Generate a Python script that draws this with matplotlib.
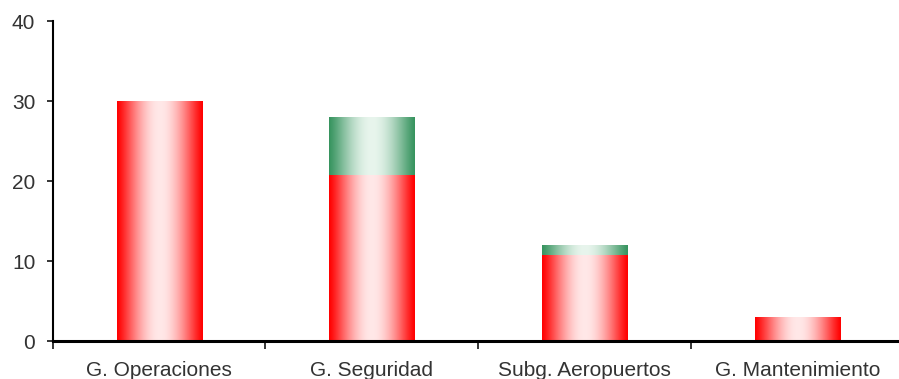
import numpy as np
import matplotlib
matplotlib.use('Agg')
import matplotlib.pyplot as plt

plt.rcParams['font.family'] = ['Liberation Sans', 'DejaVu Sans']

# datos
categorias = ['G. Operaciones', 'G. Seguridad', 'Subg. Aeropuertos', 'G. Mantenimiento']
rojo = [30, 20.8, 10.8, 3]
verde = [0, 7.2, 1.2, 0]


def gradiente(borde, centro, n=200):
    # degradado horizontal: color del borde a los lados, claro en el centro
    t = np.linspace(-1, 1, n)
    w = (np.cos(t * np.pi / 2)) ** 1.2
    borde = np.array(borde) / 255.0
    centro = np.array(centro) / 255.0
    img = borde[None, :] + (centro - borde)[None, :] * w[:, None]
    return img[None, :, :]


grad_rojo = gradiente((255, 0, 0), (255, 232, 232))
grad_verde = gradiente((55, 148, 95), (232, 245, 237))

fig = plt.figure(figsize=(8.99, 3.79), dpi=100)
ax = fig.add_axes([0.0586, 0.1, 0.9466, 0.8443])

x = np.arange(len(categorias))
ancho = 0.4
b1 = ax.bar(x, rojo, width=ancho, color='none', edgecolor='none')
b2 = ax.bar(x, verde, width=ancho, bottom=rojo, color='none', edgecolor='none')

for barras, grad in [(b1, grad_rojo), (b2, grad_verde)]:
    for p in barras:
        if p.get_height() <= 0:
            continue
        x0, y0 = p.get_x(), p.get_y()
        im = ax.imshow(grad, extent=[x0, x0 + p.get_width(), y0, y0 + p.get_height()],
                       aspect='auto', interpolation='bilinear', zorder=2)
        im.set_clip_path(p)

ax.set_xlim(-0.5, 3.5)
ax.set_ylim(0, 40)
ax.set_yticks([0, 10, 20, 30, 40])
ax.set_xticks(x)
ax.set_xticklabels(categorias)
ax.set_xticks(np.arange(-0.5, 3.6, 1), minor=True)
ax.tick_params(axis='x', which='major', length=0, labelsize=15, pad=14)
ax.tick_params(axis='x', which='minor', length=6, width=1.1, direction='out')
ax.tick_params(axis='y', length=4, width=1.1, labelsize=15, pad=8.5)
for lab in ax.get_xticklabels() + ax.get_yticklabels():
    lab.set_color('#333333')
ax.tick_params(axis='both', which='both', color='black')

ax.spines['top'].set_visible(False)
ax.spines['right'].set_visible(False)
ax.spines['left'].set_linewidth(1.5)
ax.spines['bottom'].set_linewidth(2.2)

fig.savefig('out.png', dpi=100)
